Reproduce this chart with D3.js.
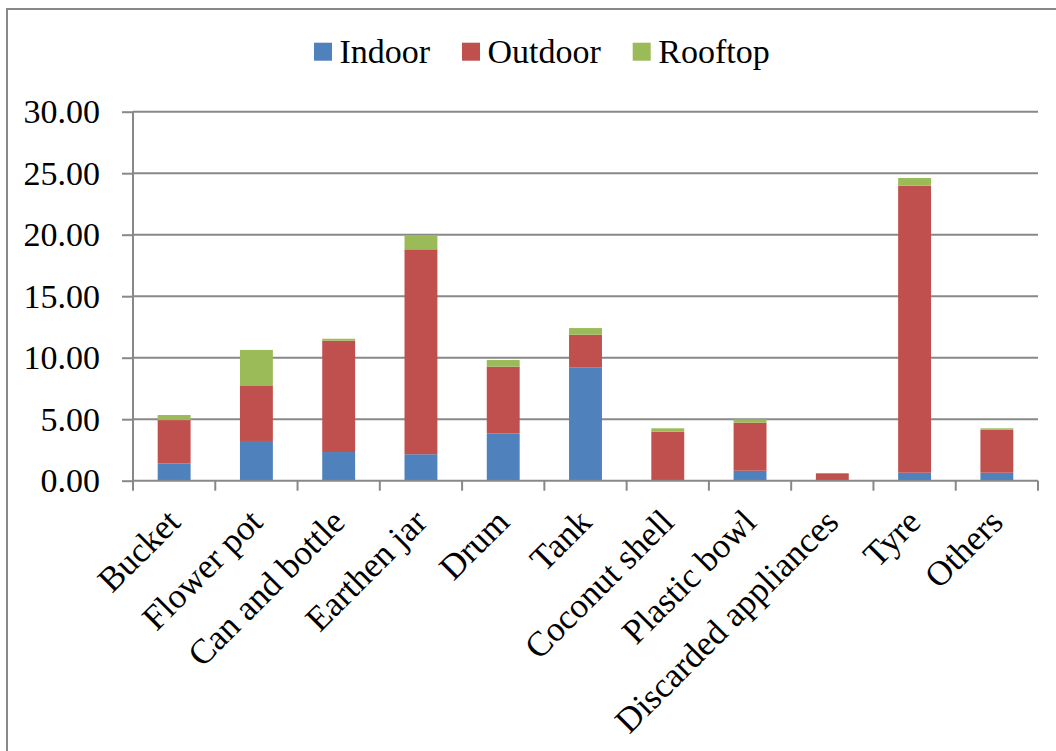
<!DOCTYPE html>
<html>
<head>
<meta charset="utf-8">
<script src="https://cdn.jsdelivr.net/npm/d3@7"></script>
<style>
  body { margin: 0; background: #fff; }
  text { font-family: "Liberation Serif", "Times New Roman", serif; fill: #000; }
</style>
</head>
<body>
<script>
// chart data
var categories = ["Bucket", "Flower pot", "Can and bottle", "Earthen jar", "Drum", "Tank",
                  "Coconut shell", "Plastic bowl", "Discarded appliances", "Tyre", "Others"];
var indoor  = [1.41, 3.23, 2.33, 2.15, 3.85, 9.19, 0.05, 0.81, 0.00, 0.65, 0.65];
var outdoor = [3.52, 4.47, 9.05, 16.66, 5.42, 2.68, 3.93, 3.91, 0.60, 23.33, 3.50];
var rooftop = [0.41, 2.93, 0.16, 1.14, 0.54, 0.54, 0.28, 0.27, 0.00, 0.63, 0.11];
var seriesNames = ["Indoor", "Outdoor", "Rooftop"];
var colors = ["#4f81bd", "#c0504d", "#9bbb59"];
var yTicks = [0, 5, 10, 15, 20, 25, 30];

var width = 1056, height = 751;
var plotLeft = 133, plotRight = 1038, plotTop = 111.7, plotBottom = 480.7;

var svg = d3.select("body").append("svg")
    .attr("width", width)
    .attr("height", height);

//outer frame
svg.append("path")
    .attr("d", "M7,751 L7,9 L1056,9")
    .attr("fill", "none")
    .attr("stroke", "#888")
    .attr("stroke-width", 2);

//build rows for stacking
var rows = categories.map(function(c, i){
    return {cat: c, Indoor: indoor[i], Outdoor: outdoor[i], Rooftop: rooftop[i]};
});
var stacked = d3.stack().keys(seriesNames)(rows);

var x = d3.scaleBand()
    .domain(categories)
    .range([plotLeft, plotRight])
    .paddingInner(0.6)
    .paddingOuter(0.3);

var y = d3.scaleLinear()
    .domain([0, 30])
    .range([plotBottom, plotTop]);

//gridlines
svg.selectAll(".grid")
    .data(yTicks.slice(1))
    .enter()
    .append("line")
    .attr("class", "grid")
    .attr("x1", plotLeft)
    .attr("x2", plotRight)
    .attr("y1", function(d){ return y(d); })
    .attr("y2", function(d){ return y(d); })
    .attr("stroke", "#888")
    .attr("stroke-width", 2);

//y axis
var yAxis = d3.axisLeft(y)
    .tickValues(yTicks)
    .tickSize(11)
    .tickPadding(22)
    .tickFormat(d3.format(".2f"));

var yg = svg.append("g")
    .attr("transform", "translate(" + plotLeft + ",0)")
    .call(yAxis);
yg.select(".domain").attr("stroke", "#888").attr("stroke-width", 2)
    .attr("d", "M0," + plotTop + "V" + (plotBottom + 9));
yg.selectAll(".tick line").attr("stroke", "#888").attr("stroke-width", 2);
yg.selectAll(".tick text")
    .style("font-size", "34px")
    .attr("dy", "0.33em");

//bars
var layers = svg.selectAll(".layer")
    .data(stacked)
    .enter()
    .append("g")
    .attr("class", "layer")
    .attr("fill", function(d, i){ return colors[i]; });

layers.selectAll("rect")
    .data(function(d){ return d; })
    .enter()
    .append("rect")
    .attr("x", function(d){ return x(d.data.cat); })
    .attr("width", x.bandwidth())
    .attr("y", function(d){ return y(d[1]); })
    .attr("height", function(d){ return y(d[0]) - y(d[1]); });

//x axis line and boundary ticks
svg.append("line")
    .attr("x1", plotLeft).attr("x2", plotRight)
    .attr("y1", plotBottom).attr("y2", plotBottom)
    .attr("stroke", "#888").attr("stroke-width", 2);

var bounds = d3.range(categories.length + 1).map(function(i){ return plotLeft + i * x.step(); });
svg.selectAll(".xtick")
    .data(bounds)
    .enter()
    .append("line")
    .attr("class", "xtick")
    .attr("x1", function(d){ return d; })
    .attr("x2", function(d){ return d; })
    .attr("y1", plotBottom)
    .attr("y2", plotBottom + 10)
    .attr("stroke", "#888")
    .attr("stroke-width", 2);

//category labels
svg.selectAll(".xlabel")
    .data(categories)
    .enter()
    .append("text")
    .attr("class", "xlabel")
    .attr("text-anchor", "end")
    .style("font-size", "35px")
    .attr("transform", function(d){
        return "translate(" + (x(d) + x.bandwidth() / 2 + 8) + "," + 524 + ") rotate(-45)";
    })
    .text(function(d){ return d; });

//legend
var legendX = [314, 462, 632.7];
var legend = svg.selectAll(".legend")
    .data(seriesNames)
    .enter()
    .append("g")
    .attr("class", "legend")
    .attr("transform", function(d, i){ return "translate(" + legendX[i] + ",0)"; });

legend.append("rect")
    .attr("x", 0)
    .attr("y", 42.7)
    .attr("width", 18)
    .attr("height", 18)
    .attr("fill", function(d, i){ return colors[i]; });

legend.append("text")
    .attr("x", 25.5)
    .attr("y", 62.5)
    .style("font-size", "34px")
    .text(function(d){ return d; });
</script>
</body>
</html>
